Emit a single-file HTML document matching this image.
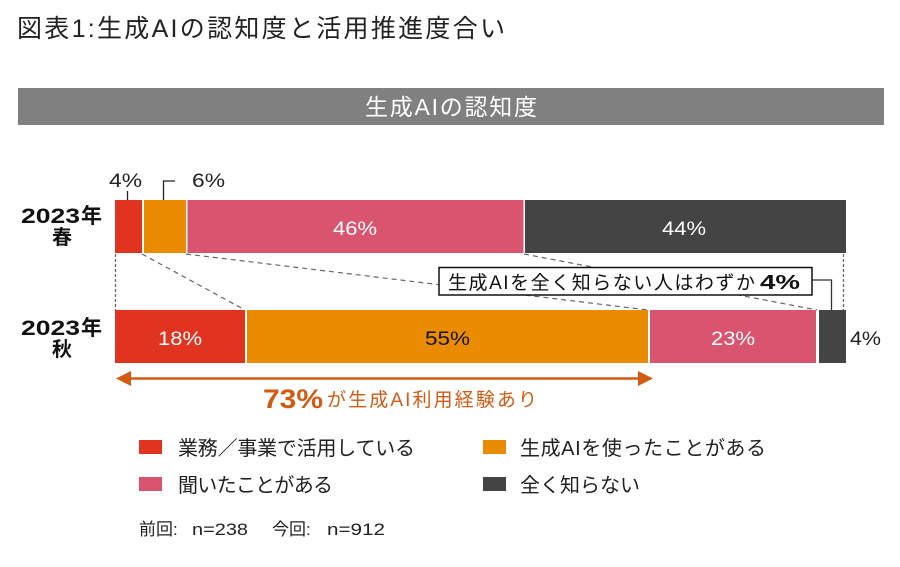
<!DOCTYPE html>
<html><head><meta charset="utf-8"><style>
html,body{margin:0;padding:0;background:#fff;}
svg{display:block;}
text{font-family:"Liberation Sans","Noto Sans CJK JP",sans-serif;}
</style></head><body>
<svg width="900" height="567" viewBox="0 0 900 567" xmlns="http://www.w3.org/2000/svg">
<rect width="900" height="567" fill="#fff"/>
<text x="17" y="37" font-size="25" fill="#222" textLength="488" lengthAdjust="spacing">図表1:生成AIの認知度と活用推進度合い</text>
<rect x="18" y="88" width="866" height="37" fill="#808080"/>
<text x="365" y="115" font-size="23" fill="#fff" textLength="172" lengthAdjust="spacing">生成AIの認知度</text>

<!-- row labels -->
<text x="21" y="223" font-size="21" font-weight="bold" fill="#111" textLength="59" lengthAdjust="spacingAndGlyphs">2023</text>
<text x="81" y="223" font-size="21" font-weight="bold" fill="#111">年</text>
<text x="62" y="244" font-size="20" font-weight="bold" fill="#111" text-anchor="middle">春</text>
<text x="21" y="335" font-size="21" font-weight="bold" fill="#111" textLength="59" lengthAdjust="spacingAndGlyphs">2023</text>
<text x="81" y="335" font-size="21" font-weight="bold" fill="#111">年</text>
<text x="62" y="356" font-size="20" font-weight="bold" fill="#111" text-anchor="middle">秋</text>

<!-- connector lines -->
<line x1="115.5" y1="254" x2="115.5" y2="310" stroke="#666" stroke-width="1.3" stroke-dasharray="3,2"/>
<line x1="843.5" y1="254" x2="843.5" y2="310" stroke="#666" stroke-width="1.3" stroke-dasharray="3,2"/>
<line x1="142" y1="254" x2="245" y2="310" stroke="#666" stroke-width="1.2" stroke-dasharray="5,4"/>
<line x1="186" y1="254" x2="648" y2="310" stroke="#666" stroke-width="1.2" stroke-dasharray="5,4"/>
<line x1="524" y1="254" x2="817" y2="310" stroke="#666" stroke-width="1.2" stroke-dasharray="5,4"/>

<!-- spring bar -->
<rect x="115" y="200" width="27" height="53" fill="#e03421"/>
<rect x="144" y="200" width="42" height="53" fill="#ea8b00"/>
<rect x="187.5" y="200" width="336" height="53" fill="#d9546e"/>
<rect x="525" y="200" width="321" height="53" fill="#444"/>
<text x="333" y="235" font-size="19" fill="#fff" textLength="44" lengthAdjust="spacingAndGlyphs">46%</text>
<text x="662" y="235" font-size="19" fill="#fff" textLength="44" lengthAdjust="spacingAndGlyphs">44%</text>

<!-- top small labels -->
<text x="109" y="187" font-size="19" fill="#222" textLength="33" lengthAdjust="spacingAndGlyphs">4%</text>
<line x1="127.5" y1="191" x2="127.5" y2="200" stroke="#222" stroke-width="1.3"/>
<text x="192" y="187" font-size="19" fill="#222" textLength="33" lengthAdjust="spacingAndGlyphs">6%</text>
<polyline points="163.5,200 163.5,181 175,181" fill="none" stroke="#222" stroke-width="1.3"/>

<!-- autumn bar -->
<rect x="115" y="310" width="130" height="53" fill="#e03421"/>
<rect x="247" y="310" width="401" height="53" fill="#ea8b00"/>
<rect x="650" y="310" width="166" height="53" fill="#d9546e"/>
<rect x="819" y="310" width="27" height="53" fill="#444"/>
<text x="158" y="345" font-size="19" fill="#fff" textLength="44" lengthAdjust="spacingAndGlyphs">18%</text>
<text x="425" y="345" font-size="19" fill="#111" textLength="45" lengthAdjust="spacingAndGlyphs">55%</text>
<text x="711" y="345" font-size="19" fill="#fff" textLength="44" lengthAdjust="spacingAndGlyphs">23%</text>
<text x="850" y="345" font-size="19" fill="#222" textLength="31" lengthAdjust="spacingAndGlyphs">4%</text>

<!-- callout -->
<polyline points="812,280 831.5,280 831.5,310" fill="none" stroke="#333" stroke-width="1.3"/>
<rect x="439" y="267.5" width="373" height="27.5" fill="#fff" stroke="#111" stroke-width="1.5"/>
<text x="448" y="289" font-size="19" fill="#111" textLength="307" lengthAdjust="spacing">生成AIを全く知らない人はわずか</text>
<text x="760" y="289" font-size="20" font-weight="bold" fill="#111" textLength="40" lengthAdjust="spacingAndGlyphs">4%</text>

<!-- arrow -->
<line x1="128" y1="378.5" x2="641" y2="378.5" stroke="#d35a12" stroke-width="2.6"/>
<polygon points="116,378.5 131,371 131,386" fill="#d35a12"/>
<polygon points="653,378.5 638,371 638,386" fill="#d35a12"/>
<text x="263" y="408" font-size="27" font-weight="bold" fill="#d35a12" textLength="60" lengthAdjust="spacingAndGlyphs">73%</text>
<text x="327" y="406" font-size="19" fill="#d35a12" textLength="210" lengthAdjust="spacing">が生成AI利用経験あり</text>

<!-- legend -->
<rect x="139" y="440" width="23" height="14" fill="#e03421"/>
<text x="178" y="455" font-size="20" fill="#222" textLength="237" lengthAdjust="spacing">業務／事業で活用している</text>
<rect x="483" y="440" width="23" height="14" fill="#ea8b00"/>
<text x="520" y="455" font-size="20" fill="#222" textLength="246" lengthAdjust="spacing">生成AIを使ったことがある</text>
<rect x="139" y="477" width="23" height="14" fill="#d9546e"/>
<text x="178" y="492" font-size="20" fill="#222" textLength="155" lengthAdjust="spacing">聞いたことがある</text>
<rect x="483" y="477" width="23" height="14" fill="#444"/>
<text x="520" y="492" font-size="20" fill="#222" textLength="120" lengthAdjust="spacing">全く知らない</text>

<text x="139" y="535" font-size="17" fill="#222">前回:</text>
<text x="192" y="535" font-size="17" fill="#222" textLength="56" lengthAdjust="spacingAndGlyphs">n=238</text>
<text x="272" y="535" font-size="17" fill="#222">今回:</text>
<text x="327" y="535" font-size="17" fill="#222" textLength="58" lengthAdjust="spacingAndGlyphs">n=912</text>
</svg>
</body></html>
